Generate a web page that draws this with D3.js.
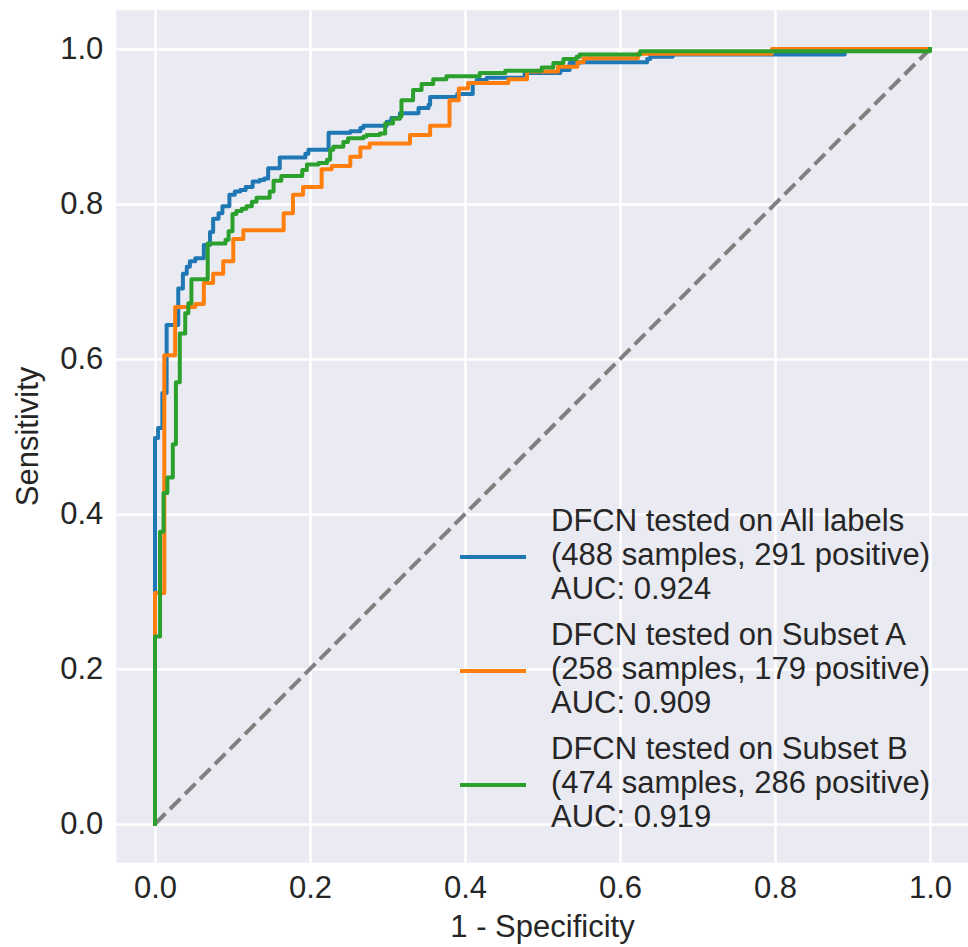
<!DOCTYPE html>
<html>
<head>
<meta charset="utf-8">
<script src="https://cdn.jsdelivr.net/npm/d3@7"></script>
<style>
body { margin: 0; background: #fff; }
svg text { font-family: "Liberation Sans", Arial, sans-serif; font-size: 31px; fill: #262626; }
</style>
</head>
<body>
<div id="chart"></div>
<script>
// tick values on both axes
const ticks = [0, 0.2, 0.4, 0.6, 0.8, 1.0];

// legend info per series
const subsetNames = ["All labels", "Subset A", "Subset B"];
const sampleCounts = [488, 258, 474];
const positiveCounts = [291, 179, 286];
const aucValues = ["0.924", "0.909", "0.919"];
const colors = ["#1f77b4", "#ff7f0e", "#2ca02c"];

// ROC corner points [fpr, tpr]
const allLabelsRoc = [
    [0, 0], [0, 0.498], [0.004, 0.511], [0.0095, 0.556], [0.015, 0.644], [0.030, 0.691],
    [0.036, 0.710], [0.041, 0.719], [0.045, 0.726], [0.052, 0.730], [0.063, 0.747],
    [0.071, 0.764], [0.075, 0.781], [0.082, 0.788], [0.087, 0.797], [0.096, 0.812],
    [0.103, 0.816], [0.110, 0.818], [0.117, 0.822], [0.126, 0.829], [0.135, 0.831],
    [0.141, 0.833], [0.146, 0.846], [0.161, 0.860], [0.194, 0.865], [0.198, 0.870],
    [0.224, 0.892], [0.252, 0.894], [0.265, 0.898], [0.269, 0.901], [0.299, 0.906],
    [0.305, 0.911], [0.316, 0.917], [0.340, 0.924], [0.353, 0.928], [0.355, 0.938],
    [0.390, 0.942], [0.410, 0.956], [0.415, 0.960], [0.428, 0.963], [0.477, 0.969],
    [0.523, 0.973], [0.535, 0.982], [0.548, 0.983], [0.635, 0.987], [0.639, 0.990],
    [0.668, 0.993], [0.890, 1.0], [1.0, 1.0]
];
const subsetARoc = [
    [0, 0], [0, 0.298], [0.012, 0.605], [0.026, 0.667], [0.052, 0.671], [0.063, 0.698],
    [0.075, 0.710], [0.088, 0.726], [0.101, 0.755], [0.114, 0.766], [0.166, 0.788],
    [0.178, 0.812], [0.191, 0.822], [0.215, 0.845], [0.228, 0.849], [0.252, 0.861],
    [0.265, 0.873], [0.277, 0.878], [0.329, 0.889], [0.355, 0.901], [0.380, 0.934],
    [0.392, 0.949], [0.404, 0.956], [0.456, 0.961], [0.480, 0.971], [0.520, 0.977],
    [0.545, 0.983], [0.553, 0.988], [0.623, 0.994], [0.796, 1.0], [1.0, 1.0]
];
const subsetBRoc = [
    [0, 0], [0, 0.242], [0.0065, 0.377], [0.011, 0.427], [0.016, 0.447], [0.023, 0.490],
    [0.027, 0.570], [0.032, 0.633], [0.039, 0.659], [0.043, 0.672], [0.047, 0.703],
    [0.068, 0.749], [0.091, 0.754], [0.095, 0.765], [0.100, 0.787], [0.105, 0.791],
    [0.112, 0.794], [0.118, 0.797], [0.125, 0.803], [0.131, 0.808], [0.148, 0.816],
    [0.153, 0.830], [0.163, 0.836], [0.190, 0.844], [0.196, 0.851], [0.211, 0.853],
    [0.222, 0.857], [0.226, 0.870], [0.230, 0.874], [0.243, 0.880], [0.249, 0.885],
    [0.269, 0.887], [0.273, 0.889], [0.290, 0.891], [0.297, 0.904], [0.307, 0.910],
    [0.316, 0.913], [0.318, 0.934], [0.333, 0.947], [0.344, 0.955], [0.359, 0.961],
    [0.376, 0.965], [0.419, 0.969], [0.452, 0.972], [0.499, 0.976], [0.514, 0.982],
    [0.527, 0.987], [0.544, 0.990], [0.548, 0.993], [0.626, 0.997], [1.0, 1.0]
];
const chanceLine = [[0, 0], [1, 1]];

const width = 968, height = 947;

const x = d3.scaleLinear().domain([-0.05, 1.05]).range([116.25, 968.75]);
const y = d3.scaleLinear().domain([-0.05, 1.05]).range([862.75, 10.25]);

const svg = d3.select("#chart").append("svg")
    .attr("width", width)
    .attr("height", height)
    .attr("viewBox", [0, 0, width, height]);

svg.append("clipPath").attr("id", "plot-clip")
    .append("rect")
    .attr("x", x(-0.05)).attr("y", y(1.05))
    .attr("width", x(1.05) - x(-0.05)).attr("height", y(-0.05) - y(1.05));

// plot background
svg.append("rect")
    .attr("x", x(-0.05)).attr("y", y(1.05))
    .attr("width", x(1.05) - x(-0.05)).attr("height", y(-0.05) - y(1.05))
    .attr("fill", "#eaeaf2");

// x axis + vertical grid
svg.append("g")
    .attr("transform", `translate(0,${y(-0.05)})`)
    .call(d3.axisBottom(x).tickValues(ticks).tickFormat(d3.format(".1f")).tickSize(0).tickPadding(13))
    .call(g => g.select(".domain").remove())
    .call(g => g.selectAll(".tick line").clone()
        .attr("y2", y(1.05) - y(-0.05))
        .attr("stroke", "#fff")
        .attr("stroke-width", 2.5));

// y axis + horizontal grid
svg.append("g")
    .attr("transform", `translate(${x(-0.05)},0)`)
    .call(d3.axisLeft(y).tickValues(ticks).tickFormat(d3.format(".1f")).tickSize(0).tickPadding(13))
    .call(g => g.select(".domain").remove())
    .call(g => g.selectAll(".tick line").clone()
        .attr("x2", x(1.05) - x(-0.05))
        .attr("stroke", "#fff")
        .attr("stroke-width", 2.5));

// axis labels
svg.append("text")
    .attr("x", (x(-0.05) + x(1.05)) / 2)
    .attr("y", 937)
    .attr("text-anchor", "middle")
    .text("1 - Specificity");

svg.append("text")
    .attr("transform", `translate(38,${(y(-0.05) + y(1.05)) / 2}) rotate(-90)`)
    .attr("text-anchor", "middle")
    .text("Sensitivity");

const plot = svg.append("g").attr("clip-path", "url(#plot-clip)");

// chance diagonal
plot.append("path")
    .attr("fill", "none")
    .attr("stroke", "#808080")
    .attr("stroke-width", 4)
    .attr("stroke-dasharray", "14.8,6.4")
    .attr("d", d3.line().x(d => x(d[0])).y(d => y(d[1]))(chanceLine));

const line = d3.line()
    .curve(d3.curveStepAfter)
    .x(d => x(d[0]))
    .y(d => y(d[1]));

[allLabelsRoc, subsetARoc, subsetBRoc].forEach((roc, i) => {
    plot.append("path")
        .attr("fill", "none")
        .attr("stroke", colors[i])
        .attr("stroke-width", 4)
        .attr("stroke-linejoin", "round")
        .attr("stroke-linecap", "square")
        .attr("d", line(roc));
});

// legend
const legend = svg.append("g").attr("transform", "translate(460,557)");
subsetNames.forEach((name, i) => {
    const row = legend.append("g").attr("transform", `translate(0,${i * 114})`);
    row.append("line")
        .attr("x1", 0).attr("x2", 66)
        .attr("stroke", colors[i])
        .attr("stroke-width", 4);
    const lines = [
        `DFCN tested on ${name}`,
        `(${sampleCounts[i]} samples, ${positiveCounts[i]} positive)`,
        `AUC: ${aucValues[i]}`
    ];
    lines.forEach((t, j) => {
        row.append("text")
            .attr("x", 91)
            .attr("y", -26 + j * 34)
            .text(t);
    });
});
</script>
</body>
</html>
